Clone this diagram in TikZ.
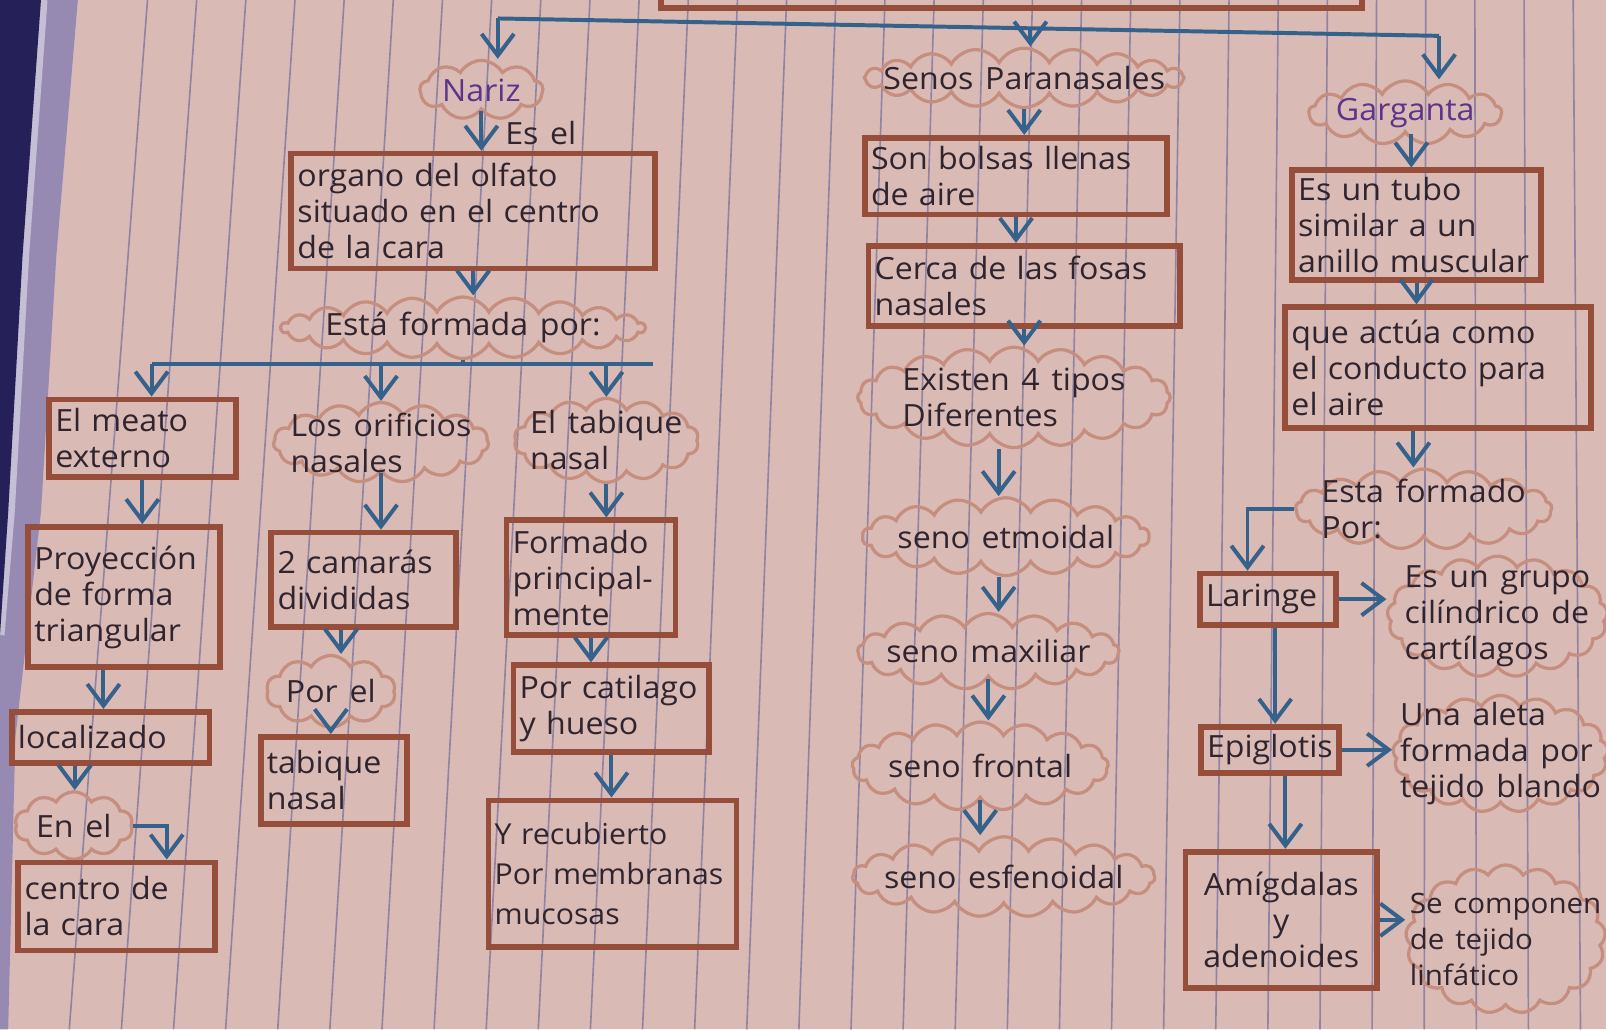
\documentclass[tikz,border=0pt]{standalone}
\usepackage{fontspec}
\setmainfont{Open Sans}[FakeStretch=1.05, WordSpace=1.4]
\usepackage{xcolor}
\usepackage{tikz}
\usetikzlibrary{shapes.symbols,arrows.meta}
\definecolor{papel}{RGB}{218,186,181}
\definecolor{raya}{RGB}{145,132,162}
\definecolor{cafe}{RGB}{150,78,58}
\definecolor{nubecol}{RGB}{198,142,126}
\definecolor{azul}{RGB}{52,98,138}
\definecolor{tinta}{RGB}{48,36,46}
\definecolor{morado}{RGB}{92,52,140}
\definecolor{marino}{RGB}{38,32,88}
\definecolor{lavanda}{RGB}{150,138,178}
\hyphenpenalty=10000
\exhyphenpenalty=10000

\tikzset{
  caja/.style={draw=cafe, line width=1.6pt, rectangle, align=left, inner xsep=0.06cm, inner ysep=2pt},
  nube/.style n args={3}{draw=nubecol, line width=0.9pt, cloud, cloud puffs=#3, cloud puff arc=120,
    cloud ignores aspect, inner xsep=-2cm, inner ysep=-1cm,
    minimum width=#1, minimum height=#2, align=left},
  flecha/.style={draw=azul, line width=1.1pt, -{Straight Barb[length=6pt,width=9pt]}},
  linea/.style={draw=azul, line width=1.1pt},
}

\begin{document}
\begin{tikzpicture}[x=0.01cm, y=-0.01cm, font=\fontsize{8.5}{10}\selectfont, text=tinta]
    \useasboundingbox (0,0) rectangle (1568,1005);
    \clip (0,0) rectangle (1568,1005);

    % hoja de cuaderno
    \fill[papel] (0,0) rectangle (1568,1005);
    \foreach \lx [evaluate=\lx as \bx using \lx-85+0.06*\lx] in {144,192,...,1630}
        \draw[raya, line width=0.45pt] (\lx,0) -- (\bx,1005);
    \fill[lavanda] (40,0) -- (76,0) -- (55,250) -- (40,500) -- (15,720) -- (8,1005) -- (0,1005) -- (0,620) -- (8,500) -- (22,250) -- cycle;
    \draw[lavanda!55!white, line width=2.5pt] (42,0) -- (24,250) -- (10,500) -- (0,620);
    \fill[marino] (0,0) -- (40,0) -- (22,250) -- (8,500) -- (0,620) -- cycle;
    \draw[cafe, line width=1.6pt] (645,-30) rectangle (1330,8);

    % Nariz
    \node[nube={1.2cm}{0.58cm}{9}, text=morado] (nariz) at (470,88) {Nariz};
    \node (esel) at (528,130) {Es el};
    \node[caja, text width=3.43cm, minimum height=1.12cm] (organo) at (462,206) {organo del olfato\\situado en el centro\\de la cara};
    \node[nube={3.55cm}{0.6cm}{22}] (formada) at (452,320) {Está formada por:};

    \node[caja, text width=1.7cm, minimum height=0.76cm] (meato) at (139,428) {El meato\\externo};
    \node[nube={2.1cm}{0.78cm}{15}] (orificios) at (372,432) {Los orificios\\nasales};
    \node[nube={1.8cm}{0.82cm}{14}] (tabique) at (592,430) {El tabique\\nasal};

    \node[caja, text width=1.75cm, minimum height=1.37cm] (proyeccion) at (121,583) {Proyección\\de forma\\triangular};
    \node[caja, text width=1.81cm, minimum height=0.5cm] (localizado) at (108,720) {localizado};
    \node[nube={1.15cm}{0.66cm}{10}] (enel) at (72,806) {En el};
    \node[caja, text width=1.8cm, minimum height=0.86cm] (centro) at (114,885) {centro de\\la cara};

    \node[caja, text width=1.68cm, minimum height=0.92cm] (camaras) at (355,566) {2 camarás\\divididas};
    \node[nube={1.26cm}{0.7cm}{10}] (porel) at (323,675) {Por el};
    \node[caja, text width=1.31cm, minimum height=0.85cm] (tabiquedos) at (326,762) {tabique\\nasal};

    \node[caja, text width=1.53cm, minimum height=1.12cm] (formado) at (577,564) {Formado\\principal-\\mente};
    \node[caja, text width=1.79cm, minimum height=0.85cm] (cartilago) at (597,692) {Por catilago\\y hueso};
    \node[caja, text width=2.3cm, minimum height=1.43cm, font=\fontsize{8}{11}\selectfont] (recubierto) at (598,853) {Y recubierto\\Por~membranas\\mucosas};

    % Senos paranasales
    \node[nube={3.12cm}{0.58cm}{20}] (senos) at (1000,76) {Senos Paranasales};
    \node[caja, text width=2.83cm, minimum height=0.75cm] (bolsas) at (992,172) {Son bolsas llenas\\de aire};
    \node[caja, text width=2.92cm, minimum height=0.78cm] (fosas) at (1000,279) {Cerca de las fosas\\nasales};
    \node[nube={3.05cm}{0.98cm}{20}] (tipos) at (990,388) {Existen 4 tipos\\Diferentes};
    \node[nube={2.8cm}{0.76cm}{18}] (etmoidal) at (982,524) {seno etmoidal};
    \node[nube={2.55cm}{0.74cm}{17}] (maxiliar) at (965,636) {seno maxiliar};
    \node[nube={2.5cm}{0.86cm}{17}] (frontal) at (957,748) {seno frontal};
    \node[nube={2.95cm}{0.78cm}{19}] (esfenoidal) at (980,856) {seno esfenoidal};

    % Garganta
    \node[nube={1.88cm}{0.62cm}{13}, text=morado] (garganta) at (1372,110) {Garganta};
    \node[caja, text width=2.31cm, minimum height=1cm] (tubo) at (1383,220) {Es un tubo\\similar a un\\anillo muscular};
    \node[caja, text width=2.86cm, minimum height=1.18cm] (conducto) at (1404,359) {que actúa como\\el conducto para\\el aire};
    \node[nube={2.5cm}{0.78cm}{17}] (estaform) at (1390,497) {Esta formado\\Por:};
    \node[caja, text width=1.21cm, minimum height=0.5cm] (laringe) at (1238,585) {Laringe};
    \node[nube={2.15cm}{1.18cm}{17}] (grupo) at (1462,602) {Es un grupo\\cilíndrico de\\cartílagos};
    \node[caja, text width=1.23cm, minimum height=0.45cm] (epiglotis) at (1240,732) {Epiglotis};
    \node[nube={2.1cm}{1.14cm}{17}] (aleta) at (1465,736) {Una aleta\\formada por\\tejido blando};
    \node[caja, align=center, text width=1.75cm, minimum height=1.33cm] (amigdalas) at (1251,898) {Amígdalas\\y\\adenoides};
    \node[nube={1.95cm}{1.45cm}{17}, font=\fontsize{7.8}{10}\selectfont] (linfa) at (1470,917) {Se componen\\de tejido\\linfático};

    % ramas de arriba
    \coordinate (rama) at (486,18);
    \coordinate (ramaC) at (1006,27);
    \coordinate (ramaD) at (1405,35);
    \draw[linea] (rama) -- (ramaD);
    \draw[flecha] (rama) -- (rama |- nariz.north);
    \draw[flecha] (ramaC) -- (ramaC |- senos.north);
    \draw[flecha] (ramaD) -- (ramaD |- garganta.north);

    % nariz
    \draw[flecha] (nariz.south) -- (nariz.south |- organo.north);
    \draw[flecha] (organo.south) -- (organo.south |- formada.north);
    \coordinate (distI) at (148,355);
    \coordinate (distD) at (638,355);
    \draw[linea] (formada.south) -- (formada.south |- distI);
    \draw[linea] (distI) -- (distD);
    \draw[flecha] (distI) -- (distI |- meato.north);
    \draw[flecha] (orificios.north |- distI) -- (orificios.north);
    \draw[flecha] (tabique.north |- distI) -- (tabique.north);

    \draw[flecha] (meato.south) -- (meato.south |- proyeccion.north);
    \draw[flecha] ([xshift=-0.2cm]proyeccion.south) -- ([xshift=-0.2cm]proyeccion.south |- localizado.north);
    \draw[flecha] ([xshift=-0.35cm]localizado.south) -- ([xshift=-0.35cm]localizado.south |- enel.north);
    \draw[flecha] (enel.east) -| ([xshift=-0.5cm]centro.north east);

    \draw[flecha] (orificios.south) -- (orificios.south |- camaras.north);
    \draw[flecha] ([xshift=-0.22cm]camaras.south) -- ([xshift=-0.22cm]camaras.south |- porel.north);
    \draw[flecha] (porel.south) -- (porel.south |- tabiquedos.north);

    \draw[flecha] (tabique.south) -- (tabique.south |- formado.north);
    \draw[flecha] (formado.south) -- (formado.south |- cartilago.north);
    \draw[flecha] (cartilago.south) -- (cartilago.south |- recubierto.north);

    % senos
    \draw[flecha] (senos.south) -- (senos.south |- bolsas.north);
    \draw[flecha] (bolsas.south) -- (bolsas.south |- fosas.north);
    \draw[flecha] (fosas.south) -- (fosas.south |- tipos.north);
    \draw[flecha] ([xshift=-0.15cm]tipos.south) -- ([xshift=-0.15cm]tipos.south |- etmoidal.north);
    \draw[flecha] ([xshift=-0.07cm]etmoidal.south) -- ([xshift=-0.07cm]etmoidal.south |- maxiliar.north);
    \draw[flecha] (maxiliar.south) -- (maxiliar.south |- frontal.north);
    \draw[flecha] (frontal.south) -- (frontal.south |- esfenoidal.north);

    % garganta
    \draw[flecha] ([xshift=0.06cm]garganta.south) -- ([xshift=0.06cm]garganta.south |- tubo.north);
    \draw[flecha] (tubo.south) -- (tubo.south |- conducto.north);
    \draw[flecha] ([xshift=-0.24cm]conducto.south) -- ([xshift=-0.24cm]conducto.south |- estaform.north);
    \draw[flecha] (estaform.west) -| ([xshift=-0.2cm]laringe.north);
    \draw[flecha] (laringe.east) -- (grupo.west |- laringe.east);
    \draw[flecha] ([xshift=0.07cm]laringe.south) -- ([xshift=0.07cm]laringe.south |- epiglotis.north);
    \draw[flecha] (epiglotis.east) -- (aleta.west |- epiglotis.east);
    \draw[flecha] ([xshift=0.15cm]epiglotis.south) -- ([xshift=0.15cm]epiglotis.south |- amigdalas.north);
    \draw[flecha] (amigdalas.east) -- (linfa.west |- amigdalas.east);
\end{tikzpicture}
\end{document}
